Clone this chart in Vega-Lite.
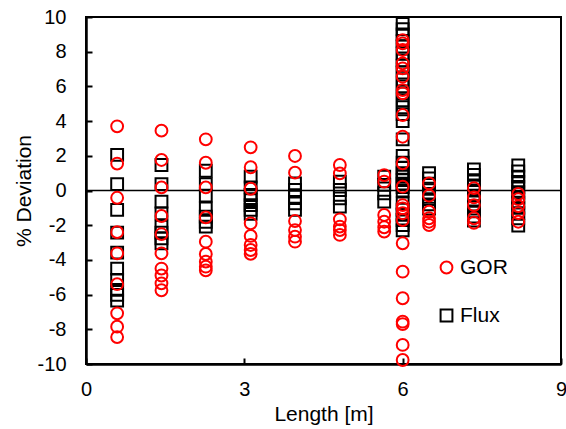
{
  "$schema": "https://vega.github.io/schema/vega-lite/v6.json",
  "autosize": "none",
  "width": 475,
  "height": 347,
  "padding": {"left": 86, "top": 17, "right": 5, "bottom": 65},
  "background": "white",
  "config": {
    "view": {"stroke": "black", "strokeWidth": 2},
    "font": "Liberation Sans",
    "axis": {"labelOverlap": false, "labelFlush": false, "grid": false}
  },
  "datasets": {
    "pts": [
      {"x": 0.59, "y": 2.05, "s": "Flux"}, {"x": 0.59, "y": 0.37, "s": "Flux"}, {"x": 0.59, "y": -1.12, "s": "Flux"}, {"x": 0.59, "y": -2.43, "s": "Flux"}, {"x": 0.59, "y": -3.58, "s": "Flux"}, {"x": 0.59, "y": -4.5, "s": "Flux"}, {"x": 0.59, "y": -5.16, "s": "Flux"}, {"x": 0.59, "y": -5.73, "s": "Flux"}, {"x": 0.59, "y": -6.02, "s": "Flux"}, {"x": 0.59, "y": -6.35, "s": "Flux"},
      {"x": 1.43, "y": 1.47, "s": "Flux"}, {"x": 1.43, "y": 0.37, "s": "Flux"}, {"x": 1.43, "y": -0.64, "s": "Flux"}, {"x": 1.43, "y": -1.32, "s": "Flux"}, {"x": 1.43, "y": -2.08, "s": "Flux"}, {"x": 1.43, "y": -2.43, "s": "Flux"}, {"x": 1.43, "y": -2.76, "s": "Flux"}, {"x": 1.43, "y": -3.04, "s": "Flux"},
      {"x": 2.27, "y": 1.14, "s": "Flux"}, {"x": 2.27, "y": 0.37, "s": "Flux"}, {"x": 2.27, "y": -0.3, "s": "Flux"}, {"x": 2.27, "y": -1.03, "s": "Flux"}, {"x": 2.27, "y": -1.51, "s": "Flux"}, {"x": 2.27, "y": -1.8, "s": "Flux"}, {"x": 2.27, "y": -2.08, "s": "Flux"},
      {"x": 3.12, "y": 0.8, "s": "Flux"}, {"x": 3.12, "y": 0.18, "s": "Flux"}, {"x": 3.12, "y": -0.26, "s": "Flux"}, {"x": 3.12, "y": -0.55, "s": "Flux"}, {"x": 3.12, "y": -0.84, "s": "Flux"}, {"x": 3.12, "y": -1.12, "s": "Flux"}, {"x": 3.12, "y": -1.35, "s": "Flux"},
      {"x": 3.96, "y": 0.41, "s": "Flux"}, {"x": 3.96, "y": 0.03, "s": "Flux"}, {"x": 3.96, "y": -0.36, "s": "Flux"}, {"x": 3.96, "y": -0.74, "s": "Flux"}, {"x": 3.96, "y": -1.12, "s": "Flux"},
      {"x": 4.81, "y": 0.51, "s": "Flux"}, {"x": 4.81, "y": 0.03, "s": "Flux"}, {"x": 4.81, "y": -0.45, "s": "Flux"}, {"x": 4.81, "y": -0.93, "s": "Flux"},
      {"x": 5.65, "y": 0.8, "s": "Flux"}, {"x": 5.65, "y": 0.32, "s": "Flux"}, {"x": 5.65, "y": -0.16, "s": "Flux"}, {"x": 5.65, "y": -0.64, "s": "Flux"},
      {"x": 6.0, "y": 9.6, "s": "Flux"}, {"x": 6.0, "y": 9.3, "s": "Flux"}, {"x": 6.0, "y": 9.0, "s": "Flux"}, {"x": 6.0, "y": 8.6, "s": "Flux"}, {"x": 6.0, "y": 8.3, "s": "Flux"}, {"x": 6.0, "y": 7.9, "s": "Flux"}, {"x": 6.0, "y": 7.5, "s": "Flux"}, {"x": 6.0, "y": 7.2, "s": "Flux"}, {"x": 6.0, "y": 6.8, "s": "Flux"}, {"x": 6.0, "y": 6.4, "s": "Flux"}, {"x": 6.0, "y": 6.0, "s": "Flux"}, {"x": 6.0, "y": 5.6, "s": "Flux"}, {"x": 6.0, "y": 5.2, "s": "Flux"}, {"x": 6.0, "y": 4.8, "s": "Flux"}, {"x": 6.0, "y": 4.4, "s": "Flux"}, {"x": 6.0, "y": 4.0, "s": "Flux"}, {"x": 6.0, "y": 2.95, "s": "Flux"}, {"x": 6.0, "y": 2.0, "s": "Flux"}, {"x": 6.0, "y": 1.6, "s": "Flux"}, {"x": 6.0, "y": 1.3, "s": "Flux"}, {"x": 6.0, "y": 1.0, "s": "Flux"}, {"x": 6.0, "y": 0.8, "s": "Flux"}, {"x": 6.0, "y": 0.6, "s": "Flux"}, {"x": 6.0, "y": 0.4, "s": "Flux"}, {"x": 6.0, "y": 0.2, "s": "Flux"}, {"x": 6.0, "y": 0.0, "s": "Flux"}, {"x": 6.0, "y": -0.75, "s": "Flux"}, {"x": 6.0, "y": -1.1, "s": "Flux"}, {"x": 6.0, "y": -1.4, "s": "Flux"}, {"x": 6.0, "y": -1.7, "s": "Flux"}, {"x": 6.0, "y": -2.0, "s": "Flux"}, {"x": 6.0, "y": -2.3, "s": "Flux"},
      {"x": 6.5, "y": 1.0, "s": "Flux"}, {"x": 6.5, "y": 0.7, "s": "Flux"}, {"x": 6.5, "y": 0.4, "s": "Flux"}, {"x": 6.5, "y": 0.1, "s": "Flux"}, {"x": 6.5, "y": -0.2, "s": "Flux"}, {"x": 6.5, "y": -0.5, "s": "Flux"}, {"x": 6.5, "y": -0.8, "s": "Flux"}, {"x": 6.5, "y": -1.04, "s": "Flux"},
      {"x": 7.35, "y": 1.21, "s": "Flux"}, {"x": 7.35, "y": 0.9, "s": "Flux"}, {"x": 7.35, "y": 0.6, "s": "Flux"}, {"x": 7.35, "y": 0.3, "s": "Flux"}, {"x": 7.35, "y": 0.0, "s": "Flux"}, {"x": 7.35, "y": -0.3, "s": "Flux"}, {"x": 7.35, "y": -0.6, "s": "Flux"}, {"x": 7.35, "y": -0.9, "s": "Flux"}, {"x": 7.35, "y": -1.2, "s": "Flux"}, {"x": 7.35, "y": -1.5, "s": "Flux"}, {"x": 7.35, "y": -1.73, "s": "Flux"},
      {"x": 8.19, "y": 1.44, "s": "Flux"}, {"x": 8.19, "y": 1.1, "s": "Flux"}, {"x": 8.19, "y": 0.8, "s": "Flux"}, {"x": 8.19, "y": 0.5, "s": "Flux"}, {"x": 8.19, "y": 0.2, "s": "Flux"}, {"x": 8.19, "y": -0.1, "s": "Flux"}, {"x": 8.19, "y": -0.4, "s": "Flux"}, {"x": 8.19, "y": -0.7, "s": "Flux"}, {"x": 8.19, "y": -1.0, "s": "Flux"}, {"x": 8.19, "y": -1.3, "s": "Flux"}, {"x": 8.19, "y": -1.6, "s": "Flux"}, {"x": 8.19, "y": -2.02, "s": "Flux"},

      {"x": 0.59, "y": 3.7, "s": "GOR"}, {"x": 0.59, "y": 1.55, "s": "GOR"}, {"x": 0.59, "y": -0.42, "s": "GOR"}, {"x": 0.59, "y": -2.4, "s": "GOR"}, {"x": 0.59, "y": -3.62, "s": "GOR"}, {"x": 0.59, "y": -5.4, "s": "GOR"}, {"x": 0.59, "y": -7.08, "s": "GOR"}, {"x": 0.59, "y": -7.85, "s": "GOR"}, {"x": 0.59, "y": -8.45, "s": "GOR"},
      {"x": 1.43, "y": 3.45, "s": "GOR"}, {"x": 1.43, "y": 1.76, "s": "GOR"}, {"x": 1.43, "y": 0.18, "s": "GOR"}, {"x": 1.43, "y": -1.47, "s": "GOR"}, {"x": 1.43, "y": -2.51, "s": "GOR"}, {"x": 1.43, "y": -3.62, "s": "GOR"}, {"x": 1.43, "y": -4.5, "s": "GOR"}, {"x": 1.43, "y": -4.9, "s": "GOR"}, {"x": 1.43, "y": -5.35, "s": "GOR"}, {"x": 1.43, "y": -5.75, "s": "GOR"},
      {"x": 2.27, "y": 2.95, "s": "GOR"}, {"x": 2.27, "y": 1.6, "s": "GOR"}, {"x": 2.27, "y": 0.18, "s": "GOR"}, {"x": 2.27, "y": -1.55, "s": "GOR"}, {"x": 2.27, "y": -2.95, "s": "GOR"}, {"x": 2.27, "y": -3.66, "s": "GOR"}, {"x": 2.27, "y": -4.1, "s": "GOR"}, {"x": 2.27, "y": -4.39, "s": "GOR"}, {"x": 2.27, "y": -4.6, "s": "GOR"},
      {"x": 3.12, "y": 2.49, "s": "GOR"}, {"x": 3.12, "y": 1.34, "s": "GOR"}, {"x": 3.12, "y": 0.1, "s": "GOR"}, {"x": 3.12, "y": -1.89, "s": "GOR"}, {"x": 3.12, "y": -2.62, "s": "GOR"}, {"x": 3.12, "y": -3.14, "s": "GOR"}, {"x": 3.12, "y": -3.43, "s": "GOR"}, {"x": 3.12, "y": -3.65, "s": "GOR"},
      {"x": 3.96, "y": 1.99, "s": "GOR"}, {"x": 3.96, "y": 1.03, "s": "GOR"}, {"x": 3.96, "y": -1.76, "s": "GOR"}, {"x": 3.96, "y": -2.28, "s": "GOR"}, {"x": 3.96, "y": -2.66, "s": "GOR"}, {"x": 3.96, "y": -2.95, "s": "GOR"},
      {"x": 4.81, "y": 1.47, "s": "GOR"}, {"x": 4.81, "y": 0.99, "s": "GOR"}, {"x": 4.81, "y": -1.66, "s": "GOR"}, {"x": 4.81, "y": -2.08, "s": "GOR"}, {"x": 4.81, "y": -2.28, "s": "GOR"}, {"x": 4.81, "y": -2.56, "s": "GOR"},
      {"x": 5.65, "y": 0.89, "s": "GOR"}, {"x": 5.65, "y": 0.51, "s": "GOR"}, {"x": 5.65, "y": -1.41, "s": "GOR"}, {"x": 5.65, "y": -1.8, "s": "GOR"}, {"x": 5.65, "y": -2.12, "s": "GOR"}, {"x": 5.65, "y": -2.37, "s": "GOR"},
      {"x": 6.0, "y": 8.67, "s": "GOR"}, {"x": 6.0, "y": 8.48, "s": "GOR"}, {"x": 6.0, "y": 8.1, "s": "GOR"}, {"x": 6.0, "y": 7.33, "s": "GOR"}, {"x": 6.0, "y": 7.04, "s": "GOR"}, {"x": 6.0, "y": 6.56, "s": "GOR"}, {"x": 6.0, "y": 5.79, "s": "GOR"}, {"x": 6.0, "y": 5.6, "s": "GOR"}, {"x": 6.0, "y": 4.35, "s": "GOR"}, {"x": 6.0, "y": 3.1, "s": "GOR"}, {"x": 6.0, "y": 1.57, "s": "GOR"}, {"x": 6.0, "y": 0.22, "s": "GOR"}, {"x": 6.0, "y": -0.84, "s": "GOR"}, {"x": 6.0, "y": -1.03, "s": "GOR"}, {"x": 6.0, "y": -1.31, "s": "GOR"}, {"x": 6.0, "y": -1.7, "s": "GOR"}, {"x": 6.0, "y": -3.04, "s": "GOR"}, {"x": 6.0, "y": -4.68, "s": "GOR"}, {"x": 6.0, "y": -6.21, "s": "GOR"}, {"x": 6.0, "y": -7.56, "s": "GOR"}, {"x": 6.0, "y": -7.7, "s": "GOR"}, {"x": 6.0, "y": -8.9, "s": "GOR"}, {"x": 6.0, "y": -9.77, "s": "GOR"},
      {"x": 6.5, "y": 0.41, "s": "GOR"}, {"x": 6.5, "y": -0.3, "s": "GOR"}, {"x": 6.5, "y": -1.22, "s": "GOR"}, {"x": 6.5, "y": -1.6, "s": "GOR"}, {"x": 6.5, "y": -1.8, "s": "GOR"}, {"x": 6.5, "y": -1.99, "s": "GOR"},
      {"x": 7.35, "y": 0.14, "s": "GOR"}, {"x": 7.35, "y": -0.4, "s": "GOR"}, {"x": 7.35, "y": -0.84, "s": "GOR"}, {"x": 7.35, "y": -1.6, "s": "GOR"}, {"x": 7.35, "y": -1.86, "s": "GOR"},
      {"x": 8.19, "y": -0.2, "s": "GOR"}, {"x": 8.19, "y": -0.5, "s": "GOR"}, {"x": 8.19, "y": -0.9, "s": "GOR"}, {"x": 8.19, "y": -1.3, "s": "GOR"}, {"x": 8.19, "y": -1.8, "s": "GOR"}
    ],
    "zero": [{"y": 0}]
  },
  "layer": [
    {
      "data": {"name": "zero"},
      "mark": {"type": "rule", "color": "black", "strokeWidth": 1.5},
      "encoding": {"y": {"field": "y", "type": "quantitative"}}
    },
    {
      "data": {"name": "pts"},
      "mark": {"type": "point", "filled": false, "strokeWidth": 2, "size": 140, "opacity": 1},
      "encoding": {
        "x": {
          "field": "x", "type": "quantitative",
          "scale": {"domain": [0, 9], "nice": false, "zero": false},
          "axis": {
            "values": [0, 3, 6, 9], "tickCount": 20, "title": "Length [m]",
            "labelExpr": "'' + datum.value",
            "domainColor": "black", "domainWidth": 2.5, "tickColor": "black", "tickWidth": 2, "tickSize": -6,
            "labelFontSize": 20, "labelColor": "black", "labelPadding": 21, "labelFont": "Liberation Sans",
            "titleFontSize": 21, "titleFontWeight": "normal", "titleColor": "black", "titlePadding": 4, "titleFont": "Liberation Sans"
          }
        },
        "y": {
          "field": "y", "type": "quantitative",
          "scale": {"domain": [-10, 10], "nice": false},
          "axis": {
            "values": [-10, -8, -6, -4, -2, 0, 2, 4, 6, 8, 10], "tickCount": 20, "title": "% Deviation",
            "labelExpr": "'' + datum.value",
            "domainColor": "black", "domainWidth": 2.5, "tickColor": "black", "tickWidth": 2, "tickSize": -6,
            "labelFontSize": 20, "labelColor": "black", "labelPadding": 26, "labelFont": "Liberation Sans",
            "titleFontSize": 21, "titleFontWeight": "normal", "titleColor": "black", "titlePadding": 3, "titleFont": "Liberation Sans"
          }
        },
        "color": {
          "field": "s", "type": "nominal",
          "scale": {"domain": ["GOR", "Flux"], "range": ["#ff0000", "#000000"]},
          "legend": {
            "title": null, "orient": "none", "legendX": 350, "legendY": 240,
            "labelFontSize": 21, "labelColor": "black", "labelFont": "Liberation Sans", "labelOffset": 3,
            "symbolSize": 140, "symbolStrokeWidth": 2, "rowPadding": 26, "symbolType": "circle"
          }
        },
        "shape": {
          "field": "s", "type": "nominal",
          "scale": {"domain": ["GOR", "Flux"], "range": ["circle", "square"]}
        }
      }
    }
  ]
}
